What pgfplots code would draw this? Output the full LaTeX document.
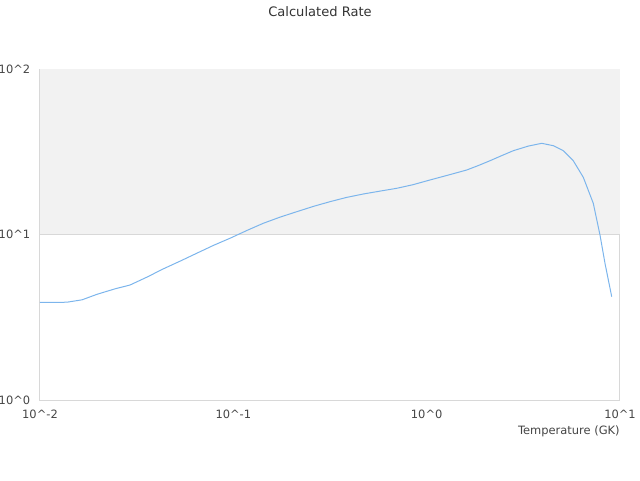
\documentclass[border=0pt]{standalone}
\usepackage{pgfplots}
\pgfplotsset{compat=1.18}
\usepackage{fontspec}
\setmainfont{DejaVu Sans}
\definecolor{rateline}{HTML}{7CB5EC}
\definecolor{band}{HTML}{F2F2F2}
\definecolor{gridc}{HTML}{D8D8D8}
\definecolor{txt}{HTML}{333333}
\definecolor{ticktxt}{HTML}{444444}
\pgfplotstableread{
T R
0.01 3.89
0.0125 3.89
0.0138 3.90
0.0165 4.03
0.0197 4.35
0.0245 4.70
0.0292 4.95
0.0360 5.55
0.0433 6.19
0.0530 6.90
0.0646 7.70
0.0790 8.60
0.0961 9.49
0.1180 10.60
0.1429 11.69
0.1750 12.75
0.2127 13.73
0.2600 14.80
0.3162 15.79
0.3850 16.75
0.4701 17.57
0.5750 18.30
0.6998 19.02
0.8500 20.00
1.040 21.35
1.300 22.90
1.611 24.53
1.850 26.10
2.127 27.92
2.450 30.00
2.807 32.09
3.350 34.20
3.936 35.57
4.519 34.41
5.089 32.09
5.733 27.92
6.460 22.16
7.275 15.44
7.882 9.93
8.364 6.70
9.061 4.21
}\ratetable
\begin{document}
\begin{tikzpicture}
\useasboundingbox (0,0) rectangle (480pt,360pt);
\node[font=\fontsize{9.8}{12}\selectfont, text=txt] at (240pt,351pt) {Calculated Rate};
\begin{axis}[
  at={(30pt,60pt)}, anchor=south west,
  scale only axis, width=435pt, height=248.25pt,
  xmode=log, ymode=log,
  xmin=0.01, xmax=10, ymin=1, ymax=100,
  xtick={0.01,0.1,1,10},
  xticklabels={10\textasciicircum-2,10\textasciicircum-1,10\textasciicircum0,10\textasciicircum1},
  ytick={1,10,100},
  yticklabels={10\textasciicircum0,10\textasciicircum1,10\textasciicircum2},
  minor tick num=0,
  log basis x=10, log basis y=10,
  major tick length=0pt, minor tick length=0pt,
  axis line style={color=gridc, line width=0.75pt},
  tick label style={font=\fontsize{8.6}{10}\selectfont, text=ticktxt},
  xticklabel style={yshift=-4.3pt},
  yticklabel style={xshift=-3.8pt},
  xlabel={Temperature (GK)},
  xlabel style={font=\fontsize{8.6}{10}\selectfont, text=ticktxt, at={(rel axis cs:1,0)}, anchor=north east, yshift=-19pt, inner sep=0pt},
  clip=true,
]
\fill[band] (axis cs:0.01,10) rectangle (axis cs:10,100);
\draw[gridc, line width=0.75pt] (axis cs:0.01,10) -- (axis cs:10,10);
\addplot[rateline, line width=0.75pt, mark=none] table[x=T, y=R] {\ratetable};
\end{axis}
\end{tikzpicture}
\end{document}
